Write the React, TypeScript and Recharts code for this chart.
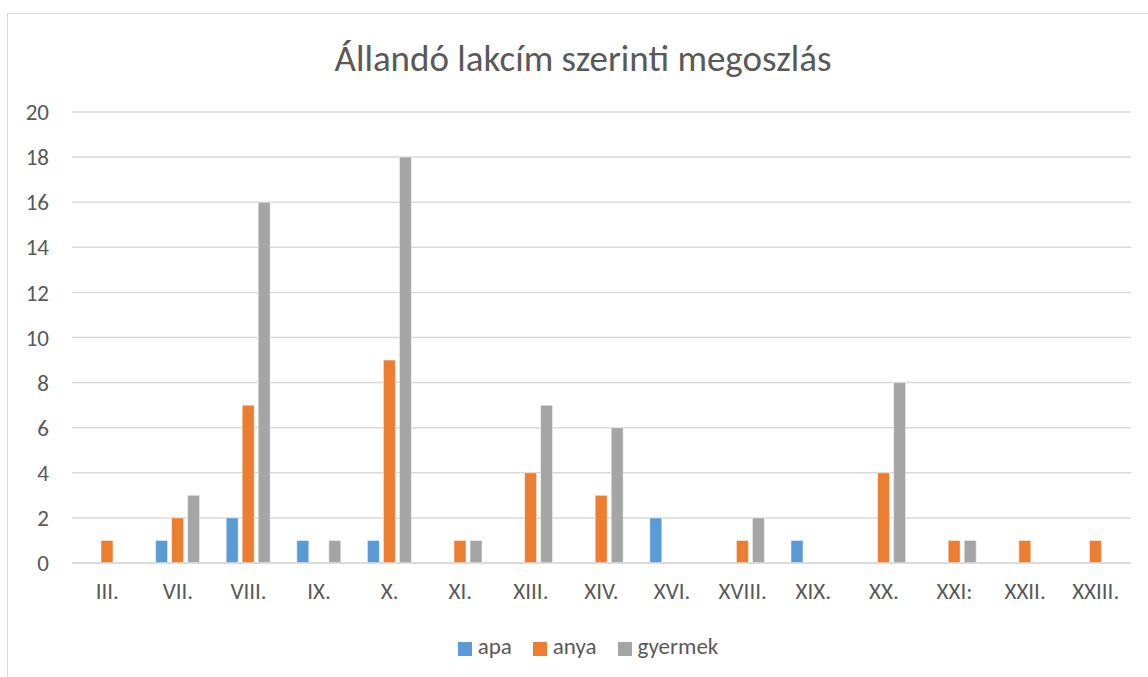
import { BarChart, Bar, XAxis, YAxis, CartesianGrid, Legend } from "recharts";

const districts = ["III.", "VII.", "VIII.", "IX.", "X.", "XI.", "XIII.", "XIV.", "XVI.", "XVIII.", "XIX.", "XX.", "XXI:", "XXII.", "XXIII."];
const apa = [0, 1, 2, 1, 1, 0, 0, 0, 2, 0, 1, 0, 0, 0, 0];
const anya = [1, 2, 7, 0, 9, 1, 4, 3, 0, 1, 0, 4, 1, 1, 1];
const gyermek = [0, 3, 16, 1, 18, 1, 7, 6, 0, 2, 0, 8, 1, 0, 0];
const yTicks = [0, 2, 4, 6, 8, 10, 12, 14, 16, 18, 20];
const seriesOrder = ["apa", "anya", "gyermek"];

const data = districts.map((name, i) => ({
  name,
  apa: apa[i],
  anya: anya[i],
  gyermek: gyermek[i],
}));

const font = "Calibri, Carlito, Lato, sans-serif";
const textColor = "#595959";

export default function App() {
  return (
    <div style={{ position: "absolute", left: 0, top: 0, width: 1148, height: 677, background: "#fff", overflow: "hidden", fontFamily: font }}>
      <div
        style={{
          position: "absolute",
          left: 7,
          top: 13,
          width: 1200,
          height: 700,
          borderLeft: "1.5px solid #d9d9d9",
          borderTop: "1.5px solid #d9d9d9",
        }}
      />
      <div
        style={{
          position: "absolute",
          left: 0,
          width: 1166,
          top: 40,
          lineHeight: 1,
          textAlign: "center",
          fontSize: 37,
          color: textColor,
        }}
      >
        Állandó lakcím szerinti megoszlás
      </div>
      <div style={{ position: "absolute", left: 0, top: 0 }}>
        <BarChart
          width={1148}
          height={677}
          data={data}
          margin={{ top: 112, right: 17, bottom: 0, left: 0 }}
          barSize={12}
          barGap={4}
        >
          <CartesianGrid vertical={false} stroke="#d9d9d9" strokeWidth={1.5} />
          <XAxis
            dataKey="name"
            axisLine={{ stroke: "#d9d9d9", strokeWidth: 1.5 }}
            tickLine={false}
            tickSize={0}
            tickMargin={20}
            height={60}
            interval={0}
            tick={{ fill: textColor, fontSize: 23, fontFamily: font }}
          />
          <YAxis
            width={72}
            domain={[0, 20]}
            ticks={yTicks}
            axisLine={false}
            tickLine={false}
            tickSize={0}
            tickMargin={23}
            tick={{ fill: textColor, fontSize: 23, fontFamily: font }}
          />
          <Legend
            verticalAlign="bottom"
            iconType="square"
            iconSize={14}
            height={54}
            itemSorter={(item: any) => seriesOrder.indexOf(item.value)}
            wrapperStyle={{ fontSize: 23, fontFamily: font, color: textColor, left: 33, bottom: -9 }}
            formatter={(v: string) => <span style={{ color: textColor, marginLeft: 2, marginRight: 11 }}>{v}</span>}
          />
          <Bar dataKey="apa" name="apa" fill="#5b9bd5" stroke="#fff" strokeWidth={0.5} isAnimationActive={false} />
          <Bar dataKey="anya" name="anya" fill="#ed7d31" stroke="#fff" strokeWidth={0.5} isAnimationActive={false} />
          <Bar dataKey="gyermek" name="gyermek" fill="#a5a5a5" stroke="#fff" strokeWidth={0.5} isAnimationActive={false} />
        </BarChart>
      </div>
    </div>
  );
}
